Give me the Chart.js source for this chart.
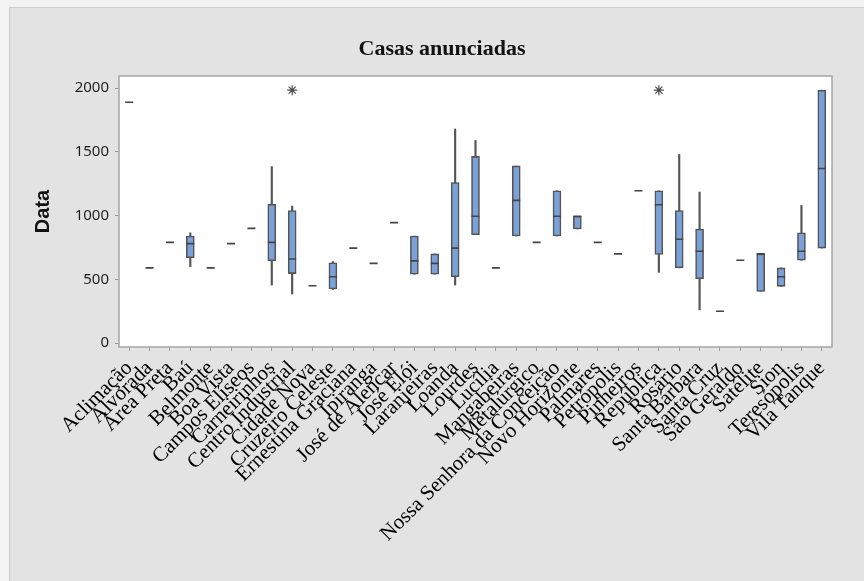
<!DOCTYPE html>
<html>
<head>
<meta charset="utf-8">
<title>Casas anunciadas</title>
<script src="https://cdn.jsdelivr.net/npm/chart.js@4.4.1/dist/chart.umd.min.js"></script>
<style>
  html, body { margin: 0; padding: 0; background: #f3f3f3; overflow: hidden; }
  .frame {
    position: absolute; left: 9px; top: 7px; width: 900px; height: 620px;
    background: #e3e3e3; border: 1px solid #cdcdcd;
  }
  #chart { position: absolute; left: 0; top: 0; }
</style>
</head>
<body>
<div class="frame"></div>
<canvas id="chart" width="864" height="581"></canvas>
<script>
// Bairros on the x axis
const categories = [
  "Aclimação", "Alvorada", "Área Preta", "Baú", "Belmonte", "Boa Vista",
  "Campos Elíseos", "Carneirinhos", "Centro Industrial", "Cidade Nova",
  "Cruzeiro Celeste", "Ernestina Graciana", "Ipiranga", "José de Alencar",
  "José Elói", "Laranjeiras", "Loanda", "Lourdes", "Lucília", "Mangabeiras",
  "Metalúrgico", "Nossa Senhora da Conceição", "Novo Horizonte", "Palmares",
  "Petrópolis", "Pinheiros", "República", "Rosário", "Santa Bárbara",
  "Santa Cruz", "São Geraldo", "Satélite", "Sion", "Teresópolis", "Vila Tanque"
];

// five-number summaries per bairro (single listings have all five equal)
const whiskerLow  = [1890, 590, 790, 600, 590, 780, 900, 455, 385, 450, 420, 745, 625, 945, 540, 540, 455, 850, 590, 840, 790, 840, 895, 790, 700, 1195, 555, 590, 260, 250, 650, 405, 445, 650, 745];
const q1          = [1890, 590, 790, 670, 590, 780, 900, 645, 545, 450, 425, 745, 625, 945, 540, 540, 520, 850, 590, 840, 790, 840, 895, 790, 700, 1195, 695, 590, 505, 250, 650, 405, 445, 650, 745];
const median      = [1890, 590, 790, 780, 590, 780, 900, 790, 660, 450, 520, 745, 625, 945, 645, 625, 745, 995, 590, 1120, 790, 995, 995, 790, 700, 1195, 1085, 815, 720, 250, 650, 700, 520, 720, 1370];
const q3          = [1890, 590, 790, 840, 590, 780, 900, 1090, 1040, 450, 630, 745, 625, 945, 840, 700, 1260, 1465, 590, 1390, 790, 1195, 995, 790, 700, 1195, 1195, 1040, 895, 250, 650, 700, 590, 865, 1985];
const whiskerHigh = [1890, 590, 790, 865, 590, 780, 900, 1385, 1075, 450, 640, 745, 625, 945, 840, 700, 1680, 1590, 590, 1390, 790, 1195, 995, 790, 700, 1195, 1195, 1480, 1185, 250, 650, 700, 590, 1080, 1985];
const outliers    = [null, null, null, null, null, null, null, null, 1985, null, null, null, null, null, null, null, null, null, null, null, null, null, null, null, null, null, 1985, null, null, null, null, null, null, null, null];

const yTicks = [0, 500, 1000, 1500, 2000];

const boxFill = "#7ba2d8";
const edge = "#555555";

// white plot area with a grey frame
const plotFrame = {
  id: "plotFrame",
  beforeDraw(chart) {
    const { ctx, chartArea: a } = chart;
    ctx.save();
    ctx.fillStyle = "#ffffff";
    ctx.fillRect(a.left, a.top, a.right - a.left, a.bottom - a.top);
    ctx.restore();
  },
  afterDatasetsDraw(chart) {
    const { ctx, chartArea: a } = chart;
    ctx.save();
    ctx.strokeStyle = "#a6a6a6";
    ctx.lineWidth = 1.5;
    ctx.strokeRect(a.left, a.top, a.right - a.left, a.bottom - a.top);
    ctx.restore();
  }
};

new Chart(document.getElementById("chart"), {
  type: "bar",
  data: {
    labels: categories,
    datasets: [
      {
        label: "whiskers",
        data: whiskerLow.map((lo, i) => [lo, whiskerHigh[i]]),
        backgroundColor: edge,
        barThickness: 1.5,
        grouped: false,
        order: 3
      },
      {
        label: "boxes",
        data: q1.map((lo, i) => [lo, q3[i]]),
        backgroundColor: boxFill,
        borderColor: edge,
        borderWidth: 1.6,
        borderSkipped: false,
        barThickness: 8,
        grouped: false,
        order: 2
      },
      {
        type: "line",
        label: "median",
        data: median,
        showLine: false,
        pointStyle: "line",
        pointRadius: 4,
        pointBorderWidth: 1.6,
        pointBorderColor: "#454545",
        order: 1
      },
      {
        type: "line",
        label: "outliers",
        data: outliers,
        showLine: false,
        pointStyle: "star",
        pointRadius: 5,
        pointBorderWidth: 1.2,
        pointBorderColor: "#4a4a4a",
        order: 0
      }
    ]
  },
  options: {
    responsive: false,
    animation: false,
    layout: { padding: { left: 20, right: 0, top: 0, bottom: 0 } },
    plugins: {
      legend: { display: false },
      tooltip: { enabled: false },
      title: {
        display: true,
        text: "Casas anunciadas",
        color: "#111111",
        font: { family: "Liberation Serif", size: 22, weight: "bold" },
        padding: { top: 36, bottom: 13.6 }
      }
    },
    scales: {
      x: {
        offset: true,
        grid: { offset: false, drawOnChartArea: false, tickLength: 4, color: "#9a9a9a" },
        border: { display: false },
        ticks: {
          autoSkip: false,
          maxRotation: 45,
          minRotation: 45,
          padding: 5,
          color: "#000000",
          font: { family: "Liberation Serif", size: 21 }
        },
        afterFit(scale) { scale.height = 234; }
      },
      y: {
        min: -31,
        max: 2096,
        grid: { drawOnChartArea: false, tickLength: 4, color: "#9a9a9a" },
        border: { display: false },
        afterBuildTicks(scale) { scale.ticks = yTicks.map(v => ({ value: v })); },
        ticks: {
          padding: 6,
          color: "#1e1e1e",
          font: { family: "Noto Sans", size: 15 },
          callback: (value) => String(value)
        },
        title: {
          display: true,
          text: "Data",
          color: "#111111",
          font: { family: "Liberation Sans", size: 20, weight: "bold" },
          padding: { top: 11, bottom: 0 }
        },
        afterFit(scale) { scale.width = 99; }
      },
      // empty right-hand axis, keeps the plot clear of the right edge
      pad: {
        type: "linear",
        position: "right",
        grid: { display: false },
        border: { display: false },
        ticks: { display: false },
        afterFit(scale) { scale.width = 32; }
      }
    }
  },
  plugins: [plotFrame]
});
</script>
</body>
</html>
